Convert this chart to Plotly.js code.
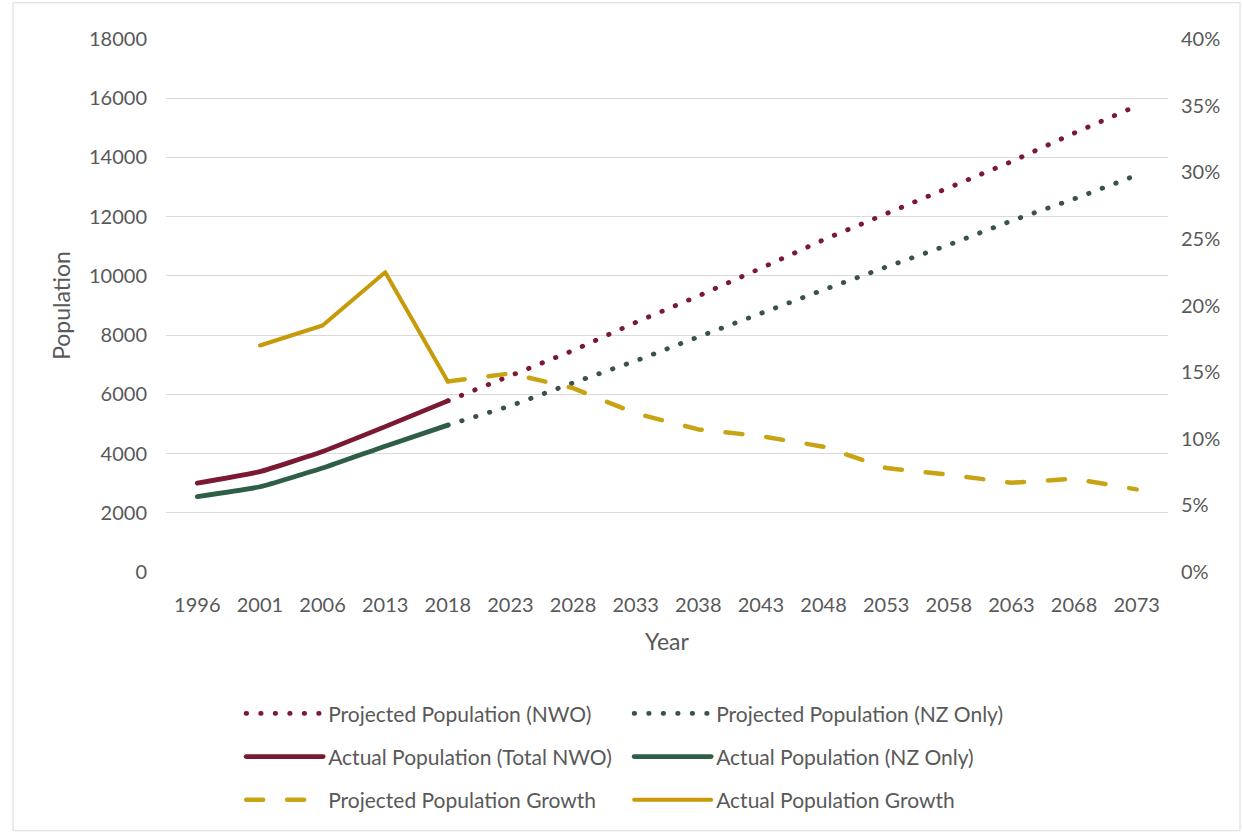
<!DOCTYPE html>
<html>
<head>
<meta charset="utf-8">
<script src="https://cdn.plot.ly/plotly-3.0.1.min.js"></script>
<style>
  html, body { margin: 0; padding: 0; background: #ffffff; }
  #chart { width: 1242px; height: 834px; }
  /* rounded caps so dotted series draw as round dots */
  .js-line { stroke-linecap: round; stroke-linejoin: round; }
</style>
</head>
<body>
<div id="chart"></div>
<script>
// Census years and projection horizon
const years = ['1996', '2001', '2006', '2013', '2018', '2023', '2028', '2033',
               '2038', '2043', '2048', '2053', '2058', '2063', '2068', '2073'];

// Actual population counts
const actualNWO = [3000, 3390, 4070, 4910, 5780, null, null, null, null, null, null, null, null, null, null, null];
const actualNZ  = [2545, 2880, 3510, 4250, 4960, null, null, null, null, null, null, null, null, null, null, null];

// Projected population counts (from 2018 base)
const projectedNWO = [null, null, null, null, 5780, 6630, 7480, 8430, 9320, 10260, 11220, 12100, 12970, 13860, 14820, 15740];
const projectedNZ  = [null, null, null, null, 4960, 5610, 6390, 7130, 7940, 8750, 9530, 10300, 11050, 11860, 12600, 13400];

// Five-yearly growth rates
const actualGrowth    = [null, 0.170, 0.185, 0.225, 0.143, null, null, null, null, null, null, null, null, null, null, null];
const projectedGrowth = [null, null, null, null, 0.143, 0.149, 0.138, 0.119, 0.107, 0.102, 0.094, 0.078, 0.073, 0.067, 0.070, 0.062];

const red = '#7B1832';
const green = '#2F5E47';
const greenDot = '#3B5247';
const gold = '#C69A08';
const goldDash = '#C8A414';

const dotDash = '0.5px,14px';
const longDash = '17px,24px';

const traces = [
  { x: years, y: projectedNWO, name: 'Projected Population (NWO)', type: 'scatter', mode: 'lines',
    line: { color: red, width: 4.8, dash: dotDash }, legend: 'legend' },
  { x: years, y: projectedNZ, name: 'Projected Population (NZ Only)', type: 'scatter', mode: 'lines',
    line: { color: greenDot, width: 4.8, dash: dotDash }, legend: 'legend' },
  { x: years, y: actualNWO, name: 'Actual Population (Total NWO)', type: 'scatter', mode: 'lines',
    line: { color: red, width: 4.8, shape: 'spline', smoothing: 0.4 }, legend: 'legend2' },
  { x: years, y: actualNZ, name: 'Actual Population (NZ Only)', type: 'scatter', mode: 'lines',
    line: { color: green, width: 4.8, shape: 'spline', smoothing: 0.4 }, legend: 'legend2' },
  { x: years, y: projectedGrowth, name: 'Projected Population Growth', type: 'scatter', mode: 'lines',
    yaxis: 'y2', line: { color: goldDash, width: 4.5, dash: longDash }, legend: 'legend3' },
  { x: years, y: actualGrowth, name: 'Actual Population Growth', type: 'scatter', mode: 'lines',
    yaxis: 'y2', line: { color: gold, width: 4 }, legend: 'legend3' }
];

const textColor = '#595959';
const fontFamily = 'Lato, "Open Sans", sans-serif';
const baseFont = { family: fontFamily, size: 20, color: textColor };

function legendRow(y) {
  return {
    orientation: 'h', x: 0.075, xanchor: 'left', y: y, yanchor: 'middle',
    entrywidth: 296, entrywidthmode: 'pixels', itemwidth: 77,
    font: { family: fontFamily, size: 21, color: textColor },
    bgcolor: 'rgba(0,0,0,0)', traceorder: 'normal'
  };
}

const layout = {
  width: 1242, height: 834,
  margin: { l: 166, r: 74, t: 39, b: 262 },
  paper_bgcolor: '#ffffff', plot_bgcolor: '#ffffff',
  font: baseFont,
  showlegend: true,
  xaxis: {
    type: 'category', range: [-0.5, 15.5],
    showgrid: false, zeroline: false, showline: false, ticks: '',
    tickfont: { size: 20, color: textColor }, ticklabelstandoff: 19,
    title: { text: 'Year', font: { size: 23, color: textColor }, standoff: 18 },
    fixedrange: true
  },
  yaxis: {
    range: [0, 18000], dtick: 2000, tick0: 0,
    showgrid: true, gridcolor: '#D9D9D9', gridwidth: 1,
    zeroline: false, showline: false, ticks: '',
    tickformat: 'd', tickfont: { size: 20, color: textColor }, ticklabelstandoff: 18,
    title: { text: 'Population', font: { size: 23, color: textColor }, standoff: 11 }
  },
  yaxis2: {
    overlaying: 'y', side: 'right',
    range: [0, 0.4], dtick: 0.05, tick0: 0,
    showgrid: false, zeroline: false, showline: false, ticks: '',
    tickformat: '.0%', tickfont: { size: 20, color: textColor }, ticklabelstandoff: 12
  },
  legend: legendRow(-0.266),
  legend2: legendRow(-0.347),
  legend3: legendRow(-0.428),
  shapes: [
    { type: 'rect', xref: 'paper', yref: 'paper',
      x0: -0.1527, x1: 1.0719, y0: -0.4855, y1: 1.068,
      line: { color: '#D9D9D9', width: 1 }, fillcolor: 'rgba(0,0,0,0)', layer: 'below' }
  ]
};

Plotly.newPlot('chart', traces, layout, { displayModeBar: false, staticPlot: true });
</script>
</body>
</html>
